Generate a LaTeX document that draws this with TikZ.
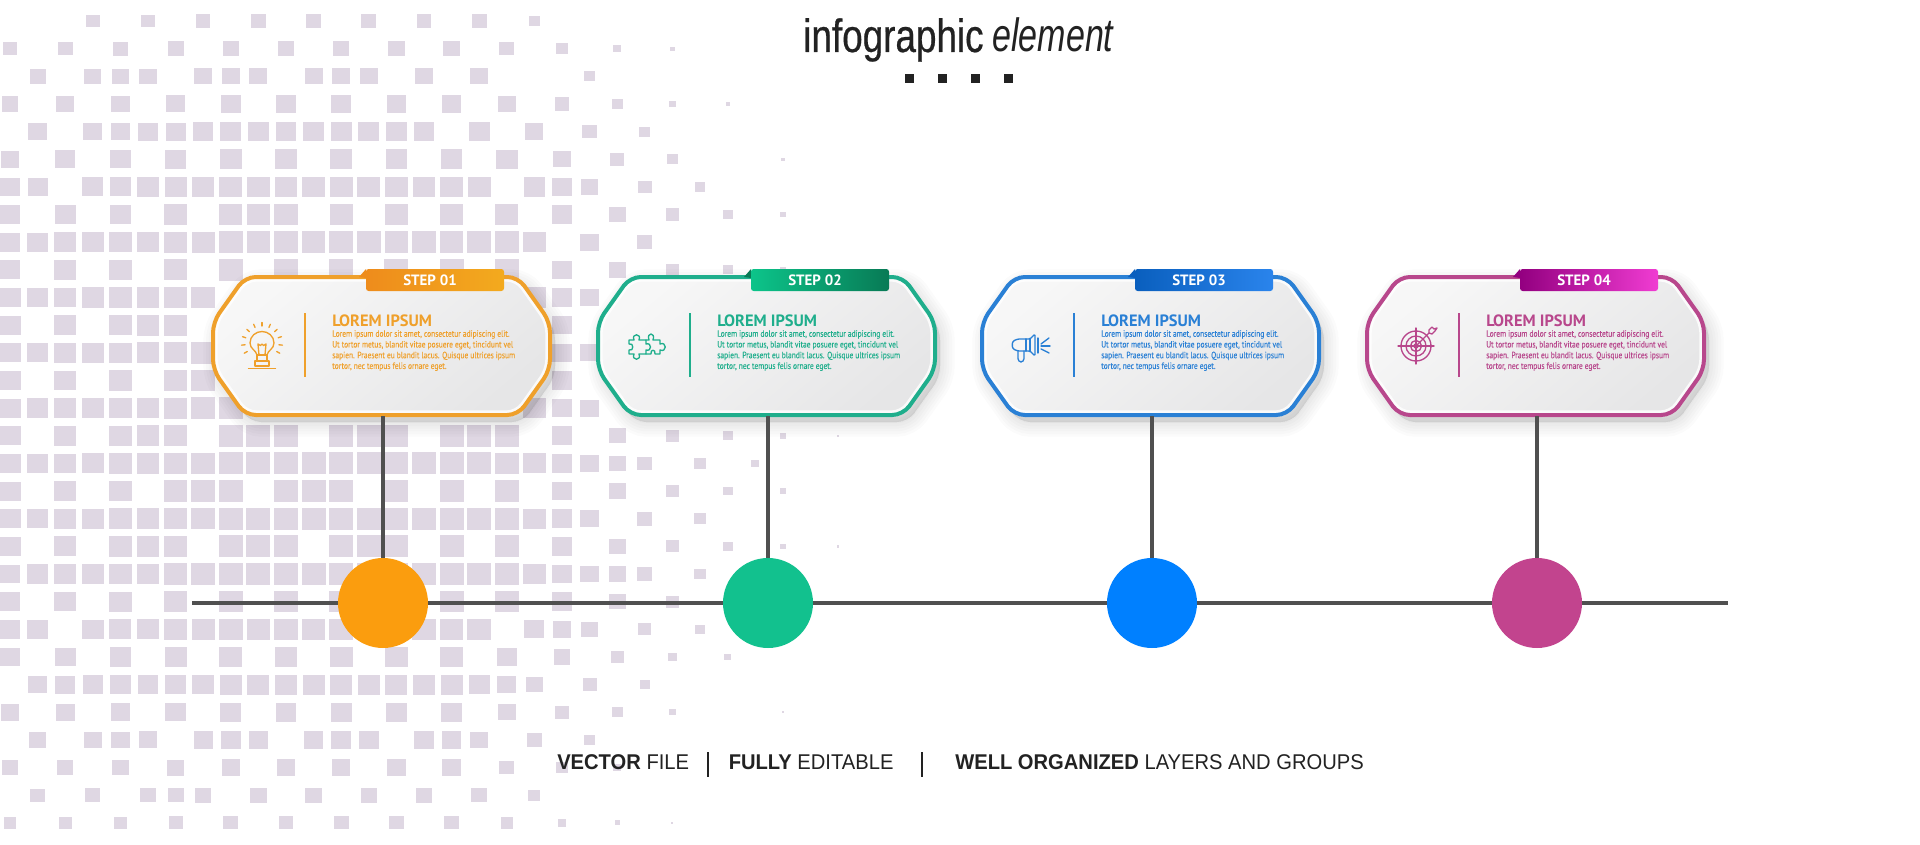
\documentclass[tikz,border=0pt]{standalone}
\usepackage{fontspec}
\setmainfont{Liberation Sans}
\newfontfamily\titlefont[FakeStretch=0.79,FakeBold=0.5]{Liberation Sans}
\newfontfamily\titleitfont[FakeStretch=0.73]{Liberation Sans Italic}
\newfontfamily\capfont[FakeStretch=0.945]{Liberation Sans}
\newfontfamily\cardfont{PT Sans}
\newfontfamily\cardbodyfont[FakeStretch=0.82,FakeBold=0.12]{PT Sans}
\definecolor{sq}{HTML}{DFD7E3}
\definecolor{ink}{HTML}{222222}
\definecolor{wire}{HTML}{505050}
\definecolor{cardA}{HTML}{EFA02B}
\definecolor{cardB}{HTML}{1FAE8C}
\definecolor{cardC}{HTML}{2A80D5}
\definecolor{cardD}{HTML}{B8478C}
\definecolor{dotA}{HTML}{FB9D0E}
\definecolor{dotB}{HTML}{12C18E}
\definecolor{dotC}{HTML}{0080FF}
\definecolor{dotD}{HTML}{C2448E}
\definecolor{tabAl}{HTML}{EE8C1C}
\definecolor{tabAr}{HTML}{F3AA1E}
\definecolor{tabBl}{HTML}{0CC48A}
\definecolor{tabBr}{HTML}{087A55}
\definecolor{tabCl}{HTML}{0A5FBE}
\definecolor{tabCr}{HTML}{2A84EC}
\definecolor{tabDl}{HTML}{930080}
\definecolor{tabDr}{HTML}{F03CD2}
\definecolor{cardhi}{HTML}{F7F7F7}
\definecolor{cardlo}{HTML}{E6E6E7}
\tikzset{
  wireline/.style={draw=wire,line width=3pt},
  dotnode/.style={circle,minimum size=67.5pt,inner sep=0pt},
  iconline/.style={line width=1pt,line cap=round,line join=round,fill=none},
  steplabel/.style={font=\cardfont\bfseries\fontsize{11.2pt}{12pt}\selectfont,text=white,inner sep=0pt},
  cardhead/.style={font=\cardfont\bfseries\fontsize{12.3pt}{13pt}\selectfont,anchor=base west,inner sep=0pt},
  cardbody/.style={font=\cardbodyfont\fontsize{6.85pt}{8.05pt}\selectfont,anchor=north west,inner sep=0pt,align=left},
  captext/.style={font=\capfont\fontsize{16pt}{18pt}\selectfont,text=ink,anchor=base west,inner sep=0pt},
}
\newcommand{\octpath}{(100,277) -- (307,277) -- (339,322) -- (339,370) -- (307,415) -- (34,415) -- (2,370) -- (2,322) -- (34,277) -- cycle}
\newcommand{\iconbulb}[1]{%
  \begin{scope}[shift={(51,347)},iconline,draw=#1]
    \draw (-5,8) .. controls (-6,3) and (-12,2) .. (-12,-4) .. controls (-12,-11) and (-6,-15.5) .. (0,-15.5) .. controls (6,-15.5) and (12,-11) .. (12,-4) .. controls (12,2) and (6,3) .. (5,8) -- cycle;
    \draw (-3,8) -- (-4,-3) -- (-1.5,-1.5) -- (0,-3) -- (1.5,-1.5) -- (4,-3) -- (3,8);
    \draw (-5,8) rectangle (5,14);
    \draw (-7,14) rectangle (7,19);
    \draw (-13.5,21.5) -- (13.5,21.5);
    \foreach \a in {-210,-186,...,30} \draw ({17*cos(\a)},{-4+17*sin(\a)}) -- ({20.5*cos(\a)},{-4+20.5*sin(\a)});
  \end{scope}}
\newcommand{\iconpuzzle}[1]{%
  \begin{scope}[shift={(51,347)},iconline,draw=#1]
    \draw (-18,-7) -- (-13,-7) .. controls (-16,-14) and (-5,-14) .. (-8,-7) -- (-1,-7) -- (-1,-3) .. controls (5,-5) and (5,5) .. (-1,3) -- (-1,7) -- (-8,7) .. controls (-5,14) and (-16,14) .. (-13,7) -- (-18,7) -- (-18,3) .. controls (-13,5) and (-13,-5) .. (-18,-3) -- cycle;
    \draw (-1,-7) -- (2,-7) .. controls (-1,-15) and (9,-15) .. (6,-7) -- (13,-7) -- (13,-3) .. controls (20,-6) and (20,6) .. (13,3) -- (13,7) -- (8,7) .. controls (9,2) and (3,2) .. (4,7) -- (-1,7);
  \end{scope}}
\newcommand{\iconhorn}[1]{%
  \begin{scope}[shift={(52,347)},iconline,draw=#1,rounded corners=1pt]
    \draw (-6,-8) -- (-14,-8) -- (-19,-6) -- (-20,-2) -- (-19,2) -- (-14,4) -- (-6,4);
    \draw (-6,-8) -- (-2,-8) -- (3,-13) -- (3,9) -- (-2,4) -- (-6,4);
    \draw (-6,-8) -- (-6,4);
    \draw (-2,-8) -- (-2,4);
    \draw (6,-9) -- (6,6);
    \draw (-14,4) -- (-14,13) -- (-12,15) -- (-10,15) -- (-8,13) -- (-8,4);
    \draw (9,-3) -- (17,-9);
    \draw (9,-1) -- (18,-1);
    \draw (9,2) -- (17,6);
  \end{scope}}
\newcommand{\icontarget}[1]{%
  \begin{scope}[shift={(51,346)},iconline,draw=#1]
    \draw (0,0) circle (15);
    \draw (0,0) circle (10);
    \draw (0,0) circle (5.5);
    \draw (0,0) circle (2);
    \draw (-18,0) -- (18,0);
    \draw (0,-18) -- (0,18);
    \draw (0,0) -- (13,-13);
    \draw (13,-16) -- (16,-19) -- (18,-17) -- (21,-18) -- (19,-15) -- (16,-12) -- (13,-13) -- cycle;
  \end{scope}}
\begin{document}
\begin{tikzpicture}[x=0.75pt,y=-0.75pt]
\useasboundingbox (0,0) rectangle (1920,845);
\fill[white] (0,0) rectangle (1920,845);
% background mosaic
\foreach \r/\cols in {
 0/{3,5,7,9,11,13,15,17,19},
 1/{0,2,4,6,8,10,12,14,16,18,20,22,24},
 2/{1,3,4,5,7,8,9,11,12,13,15,17,21},
 3/{0,2,4,6,8,10,12,14,16,18,20,22,24,26},
 4/{1,3,4,5,6,7,8,9,10,11,12,13,14,15,17,19,21,23},
 5/{0,2,4,6,8,10,12,14,16,18,20,22,24,28},
 6/{0,1,3,4,5,6,7,8,9,10,11,12,13,14,15,16,17,19,20,21,23,25},
 7/{0,2,4,6,8,9,10,12,14,16,18,20,22,24,26,28},
 8/{0,1,2,3,4,5,6,7,8,9,10,11,12,13,14,15,16,17,18,19,21,23},
 9/{0,2,4,6,8,10,12,14,16,18,20,22,24,26,28},
 10/{0,1,2,3,4,5,6,7,19,20,21},
 11/{0,2,4,5,6,20},
 12/{0,1,2,3,4,5,6,7,20,21},
 13/{0,2,4,6,7,20},
 14/{0,1,2,3,4,5,6,7,8,19,20,21},
 15/{0,2,4,5,6,8,9,10,12,13,14,16,17,18,20,22,24,26,28,30},
 16/{0,1,2,3,4,5,6,7,8,9,10,11,12,13,14,15,16,17,18,19,20,21,22,23,25,27},
 17/{0,2,4,6,7,8,10,11,12,14,16,18,20,22,24,26,28},
 18/{0,1,2,3,4,5,6,7,8,9,10,11,12,13,14,15,16,17,18,19,20,21,23,25},
 19/{0,2,4,5,6,8,9,10,12,13,14,16,18,20,22,24,26,28,30},
 20/{0,1,2,3,4,5,6,7,8,9,10,11,12,13,14,15,16,17,18,19,20,21,22,23,25},
 21/{0,2,4,6,8,10,12,14,16,18,20,22,24},
 22/{0,1,3,4,5,6,7,8,9,10,11,12,13,14,15,16,17,19,20,21,23,25},
 23/{0,2,4,6,8,10,12,14,16,18,20,22,24,26},
 24/{1,2,3,4,5,6,7,8,9,10,11,12,13,14,15,16,17,18,19,21,23},
 25/{0,2,4,6,8,10,12,14,16,18,20,22,24,28},
 26/{1,3,4,5,7,8,9,11,12,13,15,16,17,19,21},
 27/{0,2,4,6,8,10,12,14,16,18,20,22},
 28/{1,3,5,6,7,9,11,13,15,17,19},
 29/{0,2,4,6,8,10,12,14,16,18,20,22,24}}{
  \foreach \c in \cols {
    \pgfmathsetmacro\sB{ifthenelse(\r<10,23-0.09*(10-\r)^2,ifthenelse(\r>19.5,23-0.1*(\r-19.5)^2,23))}
    \pgfmathsetmacro\sE{min(31.5,ifthenelse(\r>21,31-(\r-21)*0.75,25.5+0.9*\r))}
    \pgfmathsetmacro\sL{1-0.13*max(0,(8-\c)/8)}
    \pgfmathsetmacro\sS{max(2,min(\sB*\sL,1.7*(\sE-\c)))}
    \pgfmathsetmacro\sW{\sS*1.05}
    \pgfmathsetmacro\sH{\sS*0.95}
    \fill[sq] ({10+27.6*\c-\sW/2},{21+27.65*\r-\sH/2}) rectangle ++(\sW,\sH);
  }
}
% title
\node[anchor=base west,inner sep=0pt,text=ink,font=\titlefont\fontsize{35pt}{40pt}\selectfont] (title) at (803,52) {infographic};
\node[anchor=base west,inner sep=0pt,text=ink,font=\titleitfont\fontsize{35pt}{40pt}\selectfont] (titleit) at (992,52) {element};
\foreach \x in {909,942,975,1008} \fill[ink] (\x-4.5,74.5) rectangle ++(9,9);
% timeline
\coordinate (tlL) at (192,603);
\coordinate (tlR) at (1728,603);
\foreach \i/\x/\col in {1/383/dotA,2/768/dotB,3/1152/dotC,4/1537/dotD}
  \node[dotnode,fill=\col] (dot\i) at (\x,603) {};
\draw[wireline] (tlL) -- (dot1.west);
\draw[wireline] (dot1.east) -- (dot2.west);
\draw[wireline] (dot2.east) -- (dot3.west);
\draw[wireline] (dot3.east) -- (dot4.west);
\draw[wireline] (dot4.east) -- (tlR);
% cards
\foreach \i/\xl/\main/\tl/\tr/\dk/\lab/\ic in {
  1/211/cardA/tabAl/tabAr/tabAl/01/\iconbulb,
  2/596/cardB/tabBl/tabBr/tabBr/02/\iconpuzzle,
  3/980/cardC/tabCl/tabCr/tabCl/03/\iconhorn,
  4/1365/cardD/tabDl/tabDr/tabDl/04/\icontarget}{
  \begin{scope}[shift={(\xl,0)}]
    \foreach \w in {2,6,10,14,18,22}
      \draw[black,opacity=0.014,fill=black,line width=\w pt,rounded corners=8pt,shift={(5,7)}] \octpath;
    \shade[top color=cardhi,bottom color=cardlo,shading angle=40,rounded corners=8pt] \octpath;
    \begin{scope}
      \clip[rounded corners=8pt] \octpath;
      \draw[white,opacity=0.8,line width=7pt,rounded corners=8pt] \octpath;
    \end{scope}
    \draw[\main,line width=3pt,rounded corners=8pt] \octpath;
    \fill[\dk] (148,277) -- (155,269) -- (155,278) -- cycle;
    \shade[left color=\tl,right color=\tr,rounded corners=2pt] (155,269) -- (293,269) -- (293,291) -- (155,291) -- cycle;
    \node[steplabel] (step\i) at (219,280) {STEP \lab};
    \ic{\main}
    \draw[\main,line width=1.1pt] (94,313) -- (94,377);
    \node[cardhead,text=\main] (head\i) at (121,326) {LOREM IPSUM};
    \node[cardbody,text=\main] (body\i) at (121,330) {Lorem ipsum dolor sit amet, consectetur adipiscing elit.\\Ut tortor metus, blandit vitae posuere eget, tincidunt vel\\sapien. Praesent eu blandit lacus. Quisque ultrices ipsum\\tortor, nec tempus felis ornare eget.};
    \coordinate (cardfoot\i) at (172,416);
  \end{scope}
  \draw[draw=wire,line width=2.7pt] (cardfoot\i) -- (dot\i.north);
}
% caption
\node[captext] (capa) at (557,769) {\textbf{VECTOR} FILE};
\node[captext] (capb) at (728.5,769) {\textbf{FULLY} EDITABLE};
\node[captext] (capc) at (955,769) {\textbf{WELL ORGANIZED} LAYERS AND GROUPS};
\draw[ink,line width=1.5pt] (708,752) -- (708,777);
\draw[ink,line width=1.5pt] (922,752) -- (922,777);
\end{tikzpicture}
\end{document}
